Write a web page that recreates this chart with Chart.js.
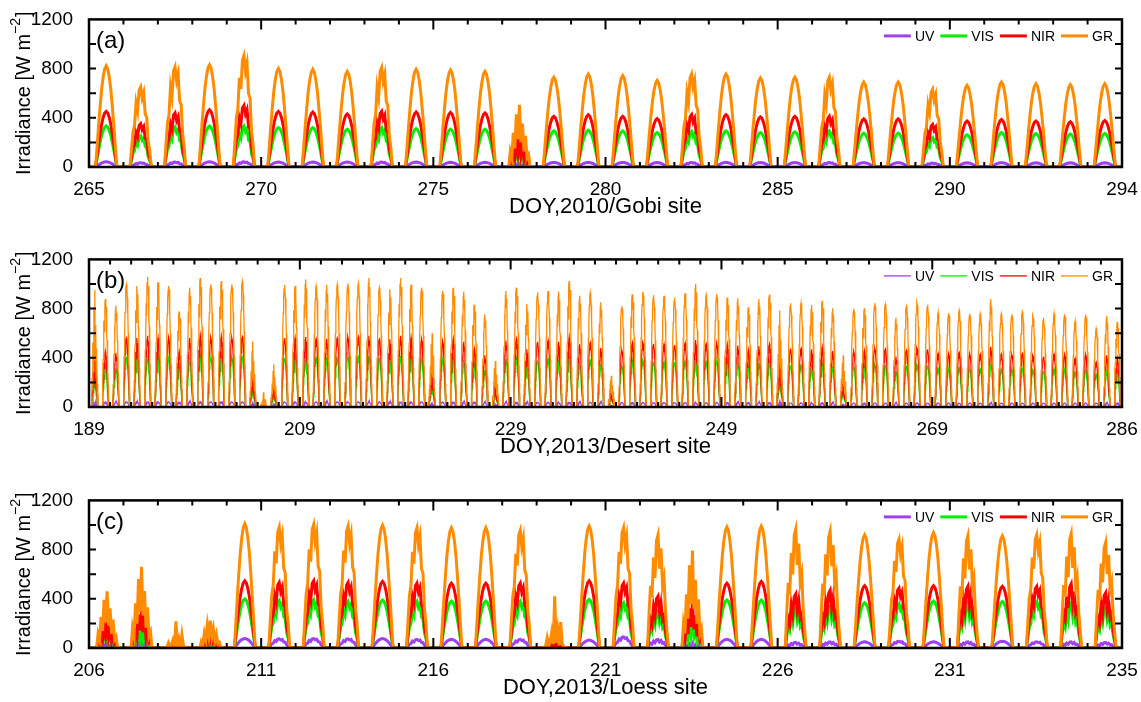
<!DOCTYPE html>
<html>
<head>
<meta charset="utf-8">
<script src="https://cdn.jsdelivr.net/npm/chart.js@4.4.0/dist/chart.umd.min.js"></script>
<style>
  html, body { margin: 0; padding: 0; background: #fff; overflow: hidden; }
  .panel { position: absolute; left: 0; width: 1141px; height: 240px; }
</style>
</head>
<body>
<div class="panel" style="top:0"><canvas id="chartA" width="1141" height="240"></canvas></div>
<div class="panel" style="top:240px"><canvas id="chartB" width="1141" height="240"></canvas></div>
<div class="panel" style="top:481px"><canvas id="chartC" width="1141" height="240"></canvas></div>
<script>
const seriesNames = ['UV', 'VIS', 'NIR', 'GR'];
const seriesColors = ['#a040f0', '#00f000', '#ff0000', '#ff8c00'];

// diurnal shapes, fraction of the day's peak, read off typical days
// 0 clear, 1 jagged, 2 broken, 3 partly cloudy, 4 overcast spikes
const shapeClear  = [0, 0.20, 0.41, 0.60, 0.77, 0.89, 0.97, 1.00, 0.97, 0.89, 0.77, 0.60, 0.41, 0.20, 0];
const shapeJagged = [0, 0.22, 0.44, 0.52, 0.80, 0.70, 0.96, 1.00, 0.86, 0.93, 0.66, 0.62, 0.32, 0.20, 0];
const shapeBroken = [0, 0.25, 0.15, 0.55, 0.30, 0.85, 0.45, 1.00, 0.40, 0.70, 0.25, 0.50, 0.15, 0.20, 0];
const shapeShower = [0, 0.30, 0.55, 0.45, 0.80, 0.62, 0.95, 1.00, 0.70, 0.88, 0.55, 0.62, 0.32, 0.15, 0];
const shapeSpikes = [0, 0.05, 0.20, 0.05, 0.12, 0.30, 0.08, 1.00, 0.10, 0.35, 0.05, 0.50, 0.08, 0.03, 0];
const shapes = [shapeClear, shapeJagged, shapeBroken, shapeShower, shapeSpikes];

// ---- (a) Gobi site, DOY 265-294, 2010 ----
const startA = 265, endA = 295;
const daylightA = [0.19, 0.81];
const tickValsA = [265, 270, 275, 280, 285, 290, 295];
const tickLabelsA = ['265', '270', '275', '280', '285', '290', '294'];
const grA  = [822, 650, 814, 830, 906, 800, 795, 777, 809, 795, 788, 777, 505, 730, 756, 743, 703, 756, 756, 724, 730, 730, 690, 690, 632, 663, 690, 677, 669, 677];
const nirA = [452, 352, 440, 465, 500, 452, 447, 431, 452, 447, 444, 439, 240, 412, 425, 412, 394, 425, 425, 407, 412, 412, 391, 391, 346, 373, 386, 373, 367, 378];
const visA = [333, 254, 325, 333, 333, 320, 320, 307, 320, 312, 307, 307, 160, 293, 299, 293, 280, 290, 293, 280, 285, 293, 275, 275, 240, 262, 280, 272, 267, 272];
const uvA  = [42, 35, 40, 42, 42, 40, 40, 40, 40, 40, 38, 38, 25, 37, 37, 37, 36, 37, 37, 36, 36, 36, 35, 35, 32, 34, 35, 34, 34, 34];
const skyA = [0, 1, 1, 0, 1, 0, 0, 0, 1, 0, 0, 0, 2, 0, 0, 0, 0, 1, 0, 0, 0, 1, 0, 0, 1, 0, 0, 0, 0, 0];

// ---- (b) Desert site, DOY 189-286, 2013 ----
const startB = 189, endB = 287;
const daylightB = [0.25, 0.85];
const tickValsB = [189, 209, 229, 249, 269, 287];
const tickLabelsB = ['189', '209', '229', '249', '269', '286'];
const grB = [
  951, 877, 824, 996, 983, 1057, 1015, 983, 776, 970,
  1049, 996, 1023, 996, 1023, 533, 120, 347, 991, 983,
  1036, 983, 991, 996, 1004, 1004, 1049, 970, 957, 1049,
  996, 970, 599, 943, 970, 938, 832, 753, 374, 943,
  970, 837, 930, 943, 938, 1023, 904, 930, 851, 254,
  819, 917, 935, 909, 904, 890, 925, 1002, 909, 917,
  890, 885, 811, 877, 912, 784, 843, 843, 829, 864,
  803, 419, 798, 803, 843, 837, 726, 819, 851, 832,
  766, 763, 784, 758, 758, 877, 758, 753, 771, 739,
  723, 758, 753, 697, 750, 639, 739, 692
];
const nirB = [
  530, 450, 440, 560, 560, 580, 560, 560, 450, 560,
  580, 560, 570, 560, 570, 280, 60, 190, 560, 560,
  570, 555, 555, 560, 570, 570, 580, 550, 550, 580,
  565, 550, 330, 530, 550, 530, 470, 420, 200, 540,
  550, 470, 530, 540, 530, 565, 510, 525, 480, 140,
  460, 520, 525, 515, 510, 505, 520, 545, 515, 515,
  505, 500, 460, 495, 510, 445, 475, 475, 470, 485,
  455, 240, 450, 455, 475, 470, 410, 460, 480, 470,
  435, 430, 445, 430, 430, 490, 430, 425, 435, 420,
  410, 430, 425, 395, 425, 365, 420, 395
];
const visB = [
  380, 325, 315, 400, 400, 415, 400, 400, 325, 400,
  415, 400, 410, 400, 410, 200, 45, 135, 400, 400,
  410, 400, 400, 400, 410, 410, 415, 395, 395, 415,
  405, 395, 240, 380, 395, 380, 340, 300, 145, 390,
  395, 340, 380, 390, 380, 405, 365, 380, 345, 100,
  330, 375, 380, 370, 365, 365, 375, 390, 370, 370,
  365, 360, 330, 355, 365, 320, 340, 340, 340, 350,
  330, 175, 325, 330, 340, 340, 295, 330, 345, 340,
  315, 310, 320, 310, 310, 350, 310, 305, 315, 300,
  295, 310, 305, 285, 305, 265, 300, 285
];
const uvB = [
  38, 40, 40, 42, 42, 42, 42, 42, 40, 42,
  42, 42, 42, 42, 42, 25, 8, 18, 42, 42,
  42, 42, 42, 42, 42, 42, 42, 42, 42, 42,
  42, 42, 28, 40, 40, 40, 40, 38, 20, 38,
  38, 38, 38, 38, 38, 38, 38, 38, 38, 12,
  36, 36, 36, 36, 36, 36, 36, 36, 36, 36,
  36, 36, 36, 36, 36, 34, 34, 34, 34, 34,
  34, 20, 32, 32, 32, 32, 32, 32, 32, 32,
  32, 32, 32, 32, 32, 32, 32, 32, 32, 32,
  32, 32, 32, 32, 32, 32, 32, 32
];
const skyB = [
  2, 1, 1, 0, 1, 1, 1, 0, 1, 1,
  1, 0, 1, 0, 0, 2, 4, 2, 0, 1,
  1, 0, 1, 0, 0, 0, 1, 0, 1, 1,
  1, 0, 2, 0, 1, 1, 1, 1, 2, 1,
  1, 1, 0, 0, 1, 1, 1, 0, 1, 2,
  0, 1, 0, 0, 0, 0, 0, 1, 0, 0,
  1, 1, 1, 1, 1, 2, 0, 0, 1, 1,
  1, 2, 0, 1, 0, 0, 1, 0, 0, 0,
  0, 0, 0, 0, 0, 1, 0, 0, 0, 0,
  0, 0, 0, 0, 0, 0, 1, 1
];

// ---- (c) Loess site, DOY 206-235, 2013 ----
const startC = 206, endC = 236;
const daylightC = [0.22, 0.83];
const tickValsC = [206, 211, 216, 221, 226, 231, 236];
const tickLabelsC = ['206', '211', '216', '221', '226', '231', '235'];
const grC  = [461, 660, 217, 223, 1010, 983, 1004, 991, 999, 978, 978, 978, 957, 421, 991, 978, 920, 792, 983, 991, 965, 951, 920, 885, 938, 912, 912, 920, 930, 859];
const nirC = [210, 320, 100, 90, 546, 533, 546, 533, 541, 527, 527, 527, 527, 150, 546, 527, 421, 380, 527, 541, 440, 470, 506, 488, 506, 501, 501, 501, 522, 448];
const visC = [150, 170, 70, 60, 400, 387, 390, 380, 390, 382, 382, 382, 382, 100, 395, 368, 300, 250, 390, 390, 320, 340, 368, 360, 382, 370, 378, 378, 370, 330];
const uvC  = [30, 45, 15, 15, 77, 75, 77, 75, 77, 70, 70, 70, 70, 20, 64, 90, 70, 40, 70, 70, 45, 50, 50, 55, 50, 50, 55, 50, 50, 45];
const skyC = [2, 2, 4, 2, 0, 1, 1, 1, 0, 1, 0, 0, 1, 4, 0, 1, 3, 2, 0, 0, 3, 3, 0, 1, 0, 3, 0, 1, 3, 3];

const FONT = '"Liberation Sans", Arial, Helvetica, sans-serif';
Chart.defaults.font.family = FONT;
Chart.defaults.color = '#000';

// one point list per series: each day's shape scaled by that day's peak
function makeSeries(start, end, peaks, sky, daylight) {
  const pts = [{ x: start, y: 0 }];
  const span = daylight[1] - daylight[0];
  peaks.forEach((peak, i) => {
    const shape = shapes[sky[i]];
    shape.forEach((f, k) => {
      pts.push({ x: start + i + daylight[0] + span * k / (shape.length - 1), y: peak * f });
    });
  });
  pts.push({ x: end, y: 0 });
  return pts;
}

// box, inward ticks, panel tag, legend and y title
const framePlugin = {
  id: 'frame',
  afterDraw(chart, args, o) {
    const { ctx, chartArea: a, scales: { x, y } } = chart;
    ctx.save();
    ctx.strokeStyle = '#000';
    ctx.lineWidth = 2;
    ctx.beginPath();
    for (let v = x.min + o.minorStep; v < x.max - 0.01; v += o.minorStep) {
      const px = x.getPixelForValue(v);
      const len = o.majors.includes(v) ? 10 : 5;
      ctx.moveTo(px, a.bottom); ctx.lineTo(px, a.bottom - len);
      ctx.moveTo(px, a.top); ctx.lineTo(px, a.top + len);
    }
    for (let v = 200; v < 1200; v += 200) {
      const py = y.getPixelForValue(v);
      ctx.moveTo(a.left, py); ctx.lineTo(a.left + 7, py);
      ctx.moveTo(a.right, py); ctx.lineTo(a.right - 7, py);
    }
    ctx.stroke();
    ctx.lineWidth = 2.5;
    ctx.strokeRect(a.left, a.top, a.right - a.left, a.bottom - a.top);

    // panel tag
    ctx.fillStyle = '#000';
    ctx.font = '24px ' + FONT;
    ctx.textBaseline = 'middle';
    ctx.textAlign = 'left';
    ctx.fillText(o.tag, a.left + 7, a.top + 22);

    // legend
    ctx.font = '14px ' + FONT;
    const lineLen = 27, gap = 4, sep = 6;
    let total = 0;
    seriesNames.forEach(n => { total += lineLen + gap + ctx.measureText(n).width + sep; });
    let lx = a.right - 9 - total + sep;
    const ly = a.top + 16.5;
    seriesNames.forEach((n, i) => {
      ctx.strokeStyle = seriesColors[i];
      ctx.lineWidth = o.lineWidth;
      ctx.beginPath();
      ctx.moveTo(lx, ly); ctx.lineTo(lx + lineLen, ly);
      ctx.stroke();
      lx += lineLen + gap;
      ctx.fillText(n, lx, ly + 1);
      lx += ctx.measureText(n).width + sep;
    });

    // y title with superscript
    ctx.translate(24, (a.top + a.bottom) / 2);
    ctx.rotate(-Math.PI / 2);
    const main = 'Irradiance [W m', sup = '\u22122', tail = ']';
    ctx.font = '20px ' + FONT;
    const wMain = ctx.measureText(main).width, wTail = ctx.measureText(tail).width;
    ctx.font = '14px ' + FONT;
    const wSup = ctx.measureText(sup).width;
    let tx = -(wMain + wSup + wTail + 1) / 2;
    ctx.font = '20px ' + FONT;
    ctx.fillText(main, tx, 0);
    tx += wMain;
    ctx.font = '14px ' + FONT;
    ctx.fillText(sup, tx, -8);
    tx += wSup + 1;
    ctx.font = '20px ' + FONT;
    ctx.fillText(tail, tx, 0);
    ctx.restore();
  }
};

function drawPanel(id, p) {
  const series = [p.uv, p.vis, p.nir, p.gr];
  // GR first so it is painted on top
  const datasets = [3, 2, 1, 0].map(i => ({
    label: seriesNames[i],
    data: makeSeries(p.start, p.end, series[i], p.sky, p.daylight),
    borderColor: seriesColors[i],
    borderWidth: p.lineWidth,
    pointRadius: 0,
    tension: 0,
    fill: false
  }));

  new Chart(document.getElementById(id).getContext('2d'), {
    type: 'line',
    data: { datasets },
    options: {
      responsive: false,
      animation: false,
      devicePixelRatio: 1,
      layout: { padding: { top: 16, right: 19, left: 0, bottom: 0 } },
      plugins: {
        legend: { display: false },
        tooltip: { enabled: false },
        frame: { tag: p.tag, minorStep: p.minorStep, majors: p.tickVals.slice(1, -1), lineWidth: p.lineWidth }
      },
      scales: {
        x: {
          type: 'linear',
          min: p.start,
          max: p.end,
          grid: { display: false },
          border: { display: false },
          afterBuildTicks: s => { s.ticks = p.tickVals.map(v => ({ value: v })); },
          afterFit: s => { s.height = 73; },
          ticks: {
            autoSkip: false, maxRotation: 0, padding: 3,
            font: { size: 19 }, color: '#000',
            callback: (v, i) => p.tickLabels[i]
          },
          title: { display: true, text: p.title, font: { size: 22 }, color: '#000', padding: { top: 0, bottom: 20 } }
        },
        y: {
          min: 0,
          max: 1200,
          grid: { display: false },
          border: { display: false },
          afterFit: s => { s.width = 89; },
          ticks: { stepSize: 400, padding: 8, font: { size: 19 }, color: '#000', callback: v => String(v) }
        }
      }
    },
    plugins: [framePlugin]
  });
}

drawPanel('chartA', {
  tag: '(a)', title: 'DOY,2010/Gobi site', start: startA, end: endA, daylight: daylightA,
  tickVals: tickValsA, tickLabels: tickLabelsA, minorStep: 1, lineWidth: 3,
  gr: grA, nir: nirA, vis: visA, uv: uvA, sky: skyA
});
drawPanel('chartB', {
  tag: '(b)', title: 'DOY,2013/Desert site', start: startB, end: endB, daylight: daylightB,
  tickVals: tickValsB, tickLabels: tickLabelsB, minorStep: 2, lineWidth: 1.3,
  gr: grB, nir: nirB, vis: visB, uv: uvB, sky: skyB
});
drawPanel('chartC', {
  tag: '(c)', title: 'DOY,2013/Loess site', start: startC, end: endC, daylight: daylightC,
  tickVals: tickValsC, tickLabels: tickLabelsC, minorStep: 1, lineWidth: 3,
  gr: grC, nir: nirC, vis: visC, uv: uvC, sky: skyC
});
</script>
</body>
</html>
